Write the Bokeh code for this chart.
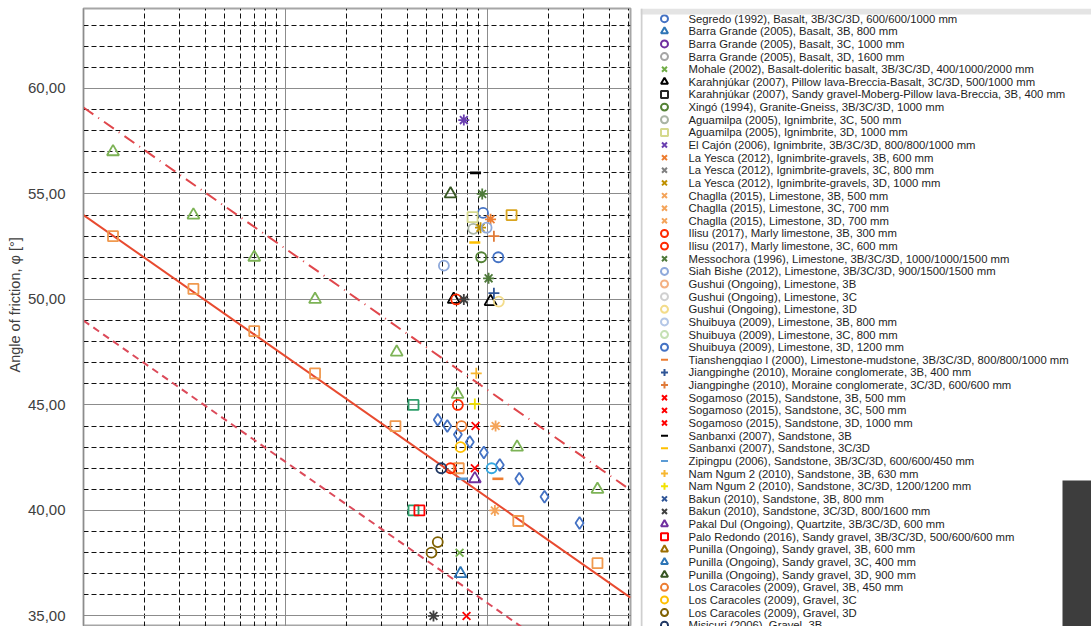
import math
from bokeh.plotting import figure
from bokeh.layouts import row
from bokeh.models import (Range1d, FixedTicker, SingleIntervalTicker, CustomJSTickFormatter,
                          ColumnDataSource, Span, Title)
from bokeh.core.properties import value
from bokeh.embed import file_html
from bokeh.resources import INLINE

# ---------------- data ----------------
series_names = [
    "Segredo (1992), Basalt, 3B/3C/3D, 600/600/1000 mm",
    "Barra Grande (2005), Basalt, 3B, 800 mm",
    "Barra Grande (2005), Basalt, 3C, 1000 mm",
    "Barra Grande (2005), Basalt, 3D, 1600 mm",
    "Mohale (2002), Basalt-doleritic basalt, 3B/3C/3D, 400/1000/2000 mm",
    "Karahnjúkar (2007), Pillow lava-Breccia-Basalt, 3C/3D, 500/1000 mm",
    "Karahnjúkar (2007), Sandy gravel-Moberg-Pillow lava-Breccia, 3B, 400 mm",
    "Xingó (1994), Granite-Gneiss, 3B/3C/3D, 1000 mm",
    "Aguamilpa (2005), Ignimbrite, 3C, 500 mm",
    "Aguamilpa (2005), Ignimbrite, 3D, 1000 mm",
    "El Cajón (2006), Ignimbrite, 3B/3C/3D, 800/800/1000 mm",
    "La Yesca (2012), Ignimbrite-gravels, 3B, 600 mm",
    "La Yesca (2012), Ignimbrite-gravels, 3C, 800 mm",
    "La Yesca (2012), Ignimbrite-gravels, 3D, 1000 mm",
    "Chaglla (2015), Limestone, 3B, 500 mm",
    "Chaglla (2015), Limestone, 3C, 700 mm",
    "Chaglla (2015), Limestone, 3D, 700 mm",
    "Ilisu (2017), Marly limestone, 3B, 300 mm",
    "Ilisu (2017), Marly limestone, 3C, 600 mm",
    "Messochora (1996), Limestone, 3B/3C/3D, 1000/1000/1500 mm",
    "Siah Bishe (2012), Limestone, 3B/3C/3D, 900/1500/1500 mm",
    "Gushui (Ongoing), Limestone, 3B",
    "Gushui (Ongoing), Limestone, 3C",
    "Gushui (Ongoing), Limestone, 3D",
    "Shuibuya (2009), Limestone, 3B, 800 mm",
    "Shuibuya (2009), Limestone, 3C, 800 mm",
    "Shuibuya (2009), Limestone, 3D, 1200 mm",
    "Tianshengqiao I (2000), Limestone-mudstone, 3B/3C/3D, 800/800/1000 mm",
    "Jiangpinghe (2010), Moraine conglomerate, 3B, 400 mm",
    "Jiangpinghe (2010), Moraine conglomerate, 3C/3D, 600/600 mm",
    "Sogamoso (2015), Sandstone, 3B, 500 mm",
    "Sogamoso (2015), Sandstone, 3C, 500 mm",
    "Sogamoso (2015), Sandstone, 3D, 1000 mm",
    "Sanbanxi (2007), Sandstone, 3B",
    "Sanbanxi (2007), Sandstone, 3C/3D",
    "Zipingpu (2006), Sandstone, 3B/3C/3D, 600/600/450 mm",
    "Nam Ngum 2 (2010), Sandstone, 3B, 630 mm",
    "Nam Ngum 2 (2010), Sandstone, 3C/3D, 1200/1200 mm",
    "Bakun (2010), Sandstone, 3B, 800 mm",
    "Bakun (2010), Sandstone, 3C/3D, 800/1600 mm",
    "Pakal Dul (Ongoing), Quartzite, 3B/3C/3D, 600 mm",
    "Palo Redondo (2016), Sandy gravel, 3B/3C/3D, 500/600/600 mm",
    "Punilla (Ongoing), Sandy gravel, 3B, 600 mm",
    "Punilla (Ongoing), Sandy gravel, 3C, 400 mm",
    "Punilla (Ongoing), Sandy gravel, 3D, 900 mm",
    "Los Caracoles (2009), Gravel, 3B, 450 mm",
    "Los Caracoles (2009), Gravel, 3C",
    "Los Caracoles (2009), Gravel, 3D",
    "Misicuri (2006), Gravel, 3B",
]
series_markers = [
    "circle", "triangle", "circle", "circle", "x", "triangle", "square", "circle", "circle", "square",
    "asterisk", "asterisk", "asterisk", "asterisk", "asterisk", "asterisk", "asterisk", "circle", "circle", "asterisk",
    "circle", "circle", "circle", "circle", "circle", "circle", "circle", "dash", "cross", "cross",
    "x", "x", "x", "dash", "dash", "dash", "cross", "cross", "x", "asterisk",
    "triangle", "square", "triangle", "triangle", "triangle", "circle", "circle", "circle", "circle",
]
series_colors = [
    "#4472C4", "#2E75B6", "#7030A0", "#A5A5A5", "#70AD47", "#000000", "#262626", "#548235", "#A9B4A4", "#D5D98E",
    "#6A3FB0", "#ED7D31", "#808080", "#BF9000", "#F4A45A", "#F4A45A", "#F4A45A", "#FF2A00", "#FF2A00", "#4E7A3A",
    "#8EA9DB", "#F4B183", "#D0D0D0", "#F3DC8A", "#B4C7E7", "#C5E0B4", "#4472C4", "#ED7D31", "#2F5597", "#E07B39",
    "#FF0000", "#FF0000", "#FF0000", "#000000", "#FFC000", "#5B9BD5", "#F7B731", "#F2E200", "#2F5597", "#404040",
    "#7030A0", "#FF0000", "#9C6E00", "#2E75B6", "#375623", "#ED7D31", "#FFC000", "#7F6000", "#203864",
]
# normal stress [kPa] and angle of friction [deg]
series_x = [
    [950], [735], [], [], [727], [680, 1035], [], [930], [850], [843],
    [763], [1035], [], [923], [1096], [1087], [], [713, 700], [656], [941, 1012],
    [608, 989], [], [], [1137], [], [], [1130], [1125], [1075], [1075],
    [865], [872], [787], [872], [865], [749], [879], [865], [], [540, 763],
    [865], [460], [], [], [656], [743], [735], [567, 528], [590],
]
series_y = [
    [54.1], [37.0], [], [], [38.0], [50.0, 49.9], [], [52.0], [53.35], [53.9],
    [58.5], [53.8], [], [53.4], [44.0], [40.0], [], [45.0, 50.0], [42.0], [55.0, 51.0],
    [51.6, 53.4], [], [], [49.9], [], [], [52.0], [41.5], [50.3], [53.0],
    [42.0], [44.0], [35.0], [56.0], [52.7], [41.5], [46.5], [45.05], [], [35.0, 50.0],
    [41.5], [40.0], [], [], [55.0], [44.0], [43.0], [38.5, 38.0], [42.0],
]

# further series of the chart whose legend entries lie below the visible part
extra_x = [
    [14, 35, 70, 140, 355, 710, 1400, 3500],
    [14, 35, 70, 140, 350, 720, 1420, 3500],
    [567, 632, 713, 817, 959, 1150, 1436, 1914, 2853],
    [430, 430],
    [1315],
    [1047],
]
extra_y = [
    [57.0, 54.0, 52.0, 50.0, 47.5, 45.5, 43.0, 41.0],
    [53.0, 50.5, 48.5, 46.5, 44.0, 42.0, 39.5, 37.5],
    [44.3, 44.0, 43.6, 43.25, 42.75, 42.15, 41.5, 40.65, 39.4],
    [45.0, 40.0],
    [54.0],
    [42.0],
]
extra_markers = ["triangle", "square", "diamond", "square", "square", "circle"]
extra_colors = ["#7DB356", "#F0994E", "#4472C4", "#2E9E6B", "#D9A520", "#33A7E0"]

# Leps-type bounds (normal stress kPa vs angle deg)
leps_x = [10, 5100]
leps_upper = [59.1, 40.97]
leps_mean = [54.0, 35.87]
leps_lower = [49.0, 30.87]

xtick_major = [10, 100, 1000]
xtick_minor = [m * d for d in (10, 100, 1000) for m in range(2, 10) if m * d <= 5100]

FONT = "Liberation Sans"
H = 626

# ---------------- main plot ----------------
p = figure(width=640, height=H, x_axis_type="log",
           x_range=Range1d(10, 5100), y_range=Range1d(34.50, 63.79),
           output_backend="svg", toolbar_location=None,
           min_border_left=83, min_border_right=10, min_border_top=8, min_border_bottom=0)
p.xaxis.visible = False
p.xaxis.ticker = FixedTicker(ticks=xtick_major, minor_ticks=xtick_minor)
p.yaxis.ticker = SingleIntervalTicker(interval=5, num_minor_ticks=5)

p.xgrid.grid_line_color = "#8c8c8c"
p.xgrid.grid_line_width = 1
p.xgrid.minor_grid_line_color = "#111111"
p.xgrid.minor_grid_line_dash = "5 3"
p.xgrid.minor_grid_line_width = 1
p.ygrid.grid_line_color = "#8c8c8c"
p.ygrid.grid_line_width = 1
p.ygrid.minor_grid_line_color = "#111111"
p.ygrid.minor_grid_line_dash = "5 3"
p.ygrid.minor_grid_line_width = 1

p.yaxis.formatter = CustomJSTickFormatter(code="return tick.toFixed(2).replace('.', ',');")
p.yaxis.axis_line_color = "#8c8c8c"
p.yaxis.major_tick_line_color = None
p.yaxis.minor_tick_line_color = None
p.yaxis.major_label_standoff = 12
p.yaxis.major_label_text_font = FONT
p.yaxis.major_label_text_font_size = "15px"
p.yaxis.major_label_text_color = "#404040"
p.outline_line_color = "#a6a6a6"
p.outline_line_width = 2

# y-axis title placed along the left side
p.add_layout(Title(text="Angle of friction, φ [°]", align="left", offset=254,
                   text_font=FONT, text_font_size="14.5px", text_font_style="normal",
                   text_color="#404040", standoff=4), "left")

p.line(leps_x, leps_upper, line_color="#E0474C", line_width=2, line_dash="12 6 1 6")
p.line(leps_x, leps_mean, line_color="#E84A2F", line_width=2)
p.line(leps_x, leps_lower, line_color="#DC4A5A", line_width=2, line_dash="7 5")

def marker_size(m):
    return {"dash": 11, "cross": 11, "x": 11, "asterisk": 11, "triangle": 12, "diamond": 12}.get(m, 10)

for xs, ys, m, c in zip(extra_x, extra_y, extra_markers, extra_colors):
    p.scatter(xs, ys, marker=m, size=marker_size(m), line_color=c, fill_color=None, line_width=1.8)

for xs, ys, m, c in zip(series_x, series_y, series_markers, series_colors):
    if xs:
        p.scatter(xs, ys, marker=m, size=marker_size(m), line_color=c, fill_color=None,
                  line_width=2.6 if m == "dash" else 1.8)

# ---------------- legend panel ----------------
LW = 451
lg = figure(width=LW, height=H, x_range=Range1d(0, LW), y_range=Range1d(H, 0),
            output_backend="svg", toolbar_location=None,
            x_axis_location=None, y_axis_location=None, min_border=0)
lg.grid.visible = False
lg.outline_line_color = None

row_pitch = 12.8
row0 = 10.3
n = len(series_names)
leg_y = [row0 + row_pitch * i for i in range(n)]
leg_markers = ["x" if m == "asterisk" else m for m in series_markers]
src = ColumnDataSource(dict(x=[24] * n, tx=[48] * n, y=leg_y,
                            marker=leg_markers, color=series_colors, name=series_names))
lg.text("tx", "y", text="name", source=src, text_font=value(FONT), text_font_size="11.3px",
        text_baseline="middle", text_color="#1e1e1e")
lg.scatter("x", "y", source=src, marker="marker", size=7, line_color="color", fill_color=None, line_width=2)
lg.quad(left=[0], right=[LW], top=[0], bottom=[6], fill_color="#e4e4e4", line_color=None)
lg.add_layout(Span(location=1, dimension="height", line_color="#cfcfcf", line_width=2))
lg.quad(left=[422], right=[LW], top=[478], bottom=[H], fill_color="#3d3d3d", line_color=None)

layout = row(p, lg)
open("out.html", "w").write(file_html(layout, INLINE))
